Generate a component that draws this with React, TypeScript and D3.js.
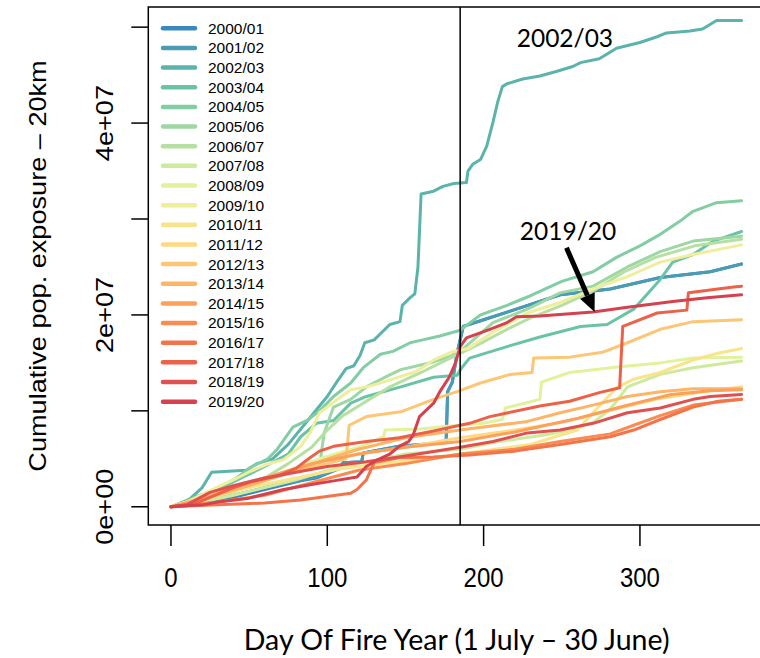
import React from "react";
import * as d3 from "d3";

// Fire seasons (1 July - 30 June)
const seasons = [
  "2000/01", "2001/02", "2002/03", "2003/04", "2004/05", "2005/06", "2006/07",
  "2007/08", "2008/09", "2009/10", "2010/11", "2011/12", "2012/13", "2013/14",
  "2014/15", "2015/16", "2016/17", "2017/18", "2018/19", "2019/20",
];

// Spectral-like ramp, blue (oldest) to red (newest)
const seasonColours = [
  "#3a88bd", "#4a9cb5", "#5bb4ab", "#6bc3a5", "#83cda4", "#9cd7a4", "#b6e0a1",
  "#cdea9d", "#e2f29b", "#eeee9c", "#f7e48b", "#fdd984", "#fdc674", "#fdb466",
  "#fca05b", "#f98b53", "#f4744a", "#ec6148", "#e0504f", "#d5414f",
];

// Cumulative population exposure, [day of fire year, exposure in units of 1e7 people]
const s2000: [number, number][] = [[0,0],[20,0.04],[40,0.1],[60,0.18],[83,0.27],[93,0.3],[108,0.4],[110,0.46],[122,0.47],[123,0.56],[146,0.63],[176,0.67],[177,1.2],[180,1.3],[183,1.6],[187,1.88],[200,1.95],[217,2.04],[249,2.21],[281,2.27],[313,2.39],[345,2.45],[365,2.53]];
const s2001: [number, number][] = [[0,0],[20,0.05],[40,0.12],[60,0.2],[83,0.28],[93,0.31],[108,0.4],[110,0.46],[122,0.47],[123,0.56],[146,0.63],[176,0.67],[177,1.2],[180,1.3],[183,1.6],[187,1.88],[200,1.95],[217,2.04],[249,2.21],[281,2.27],[313,2.39],[345,2.45],[365,2.53]];
const s2002: [number, number][] = [[0,0],[10,0.05],[20,0.2],[26,0.36],[48,0.38],[55,0.45],[65,0.5],[75,0.65],[85,0.85],[95,1.05],[100,1.15],[106,1.3],[112,1.44],[117,1.47],[121,1.58],[124,1.71],[130,1.74],[140,1.9],[146.5,1.93],[148,2.1],[153,2.18],[156,2.22],[158,2.5],[160,3.26],[168,3.29],[174,3.34],[181,3.37],[189,3.38],[190,3.5],[193,3.57],[198,3.62],[202,3.76],[206,4.01],[209,4.22],[212,4.38],[215,4.41],[225,4.46],[236,4.49],[247,4.54],[257,4.59],[262,4.63],[274,4.67],[279,4.72],[285,4.78],[300,4.84],[311,4.9],[317,4.94],[332,4.96],[340,4.98],[343,5.01],[349,5.07],[365,5.07]];
const s2003: [number, number][] = [[0,0],[15,0.1],[30,0.18],[45,0.3],[60,0.42],[75,0.55],[83,0.73],[93,0.87],[104,0.9],[115,1.08],[125,1.15],[147,1.25],[168,1.35],[183,1.37],[186,1.45],[191,1.55],[215,1.67],[236,1.77],[262,1.88],[279,1.9],[296,2.06],[313,2.37],[321,2.55],[334,2.63],[347,2.77],[365,2.87]];
const s2004: [number, number][] = [[0,0],[15,0.05],[30,0.2],[40,0.28],[52,0.42],[62,0.5],[68,0.6],[78,0.83],[87,0.9],[95,1.0],[104,1.15],[115,1.29],[123,1.45],[134,1.59],[142,1.62],[153,1.71],[161,1.74],[172,1.78],[185,1.84],[198,2.0],[215,2.1],[230,2.2],[250,2.35],[270,2.45],[285,2.6],[300,2.72],[313,2.84],[325,2.97],[334,3.08],[349,3.17],[365,3.19]];
const s2005: [number, number][] = [[0,0],[20,0.1],[40,0.22],[60,0.3],[80,0.38],[95,0.42],[98,0.77],[104,1.04],[115,1.12],[125,1.25],[138,1.36],[147,1.43],[168,1.51],[179,1.57],[185,1.62],[206,1.92],[228,2.06],[249,2.23],[270,2.3],[292,2.5],[313,2.66],[334,2.77],[365,2.82]];
const s2006: [number, number][] = [[0,0],[20,0.06],[40,0.15],[60,0.3],[75,0.45],[90,0.62],[100,0.8],[110,0.95],[125,1.1],[140,1.25],[160,1.4],[175,1.52],[185,1.6],[200,1.72],[215,1.85],[230,1.97],[250,2.1],[270,2.25],[290,2.45],[310,2.6],[335,2.72],[365,2.79]];
const s2007: [number, number][] = [[0,0],[20,0.05],[40,0.12],[60,0.2],[80,0.28],[100,0.38],[120,0.45],[150,0.55],[185,0.6],[210,0.68],[240,0.75],[255,0.8],[270,0.88],[280,1.0],[285,1.1],[292,1.25],[313,1.38],[334,1.45],[365,1.52]];
const s2008: [number, number][] = [[0,0],[20,0.08],[45,0.2],[70,0.35],[95,0.5],[120,0.62],[136,0.73],[137,0.8],[160,0.81],[177,0.84],[200,0.87],[212,0.91],[214,1.03],[236,1.12],[237,1.3],[255,1.4],[287,1.46],[313,1.5],[334,1.55],[365,1.56]];
const s2009: [number, number][] = [[0,0],[10,0.05],[29,0.2],[40,0.28],[51,0.37],[61,0.44],[72,0.49],[83,0.63],[89,0.77],[95,0.98],[104,1.09],[115,1.22],[125,1.25],[136,1.3],[147,1.36],[157,1.41],[168,1.53],[179,1.61],[190,1.65],[206,1.82],[228,2.02],[249,2.13],[270,2.27],[292,2.4],[313,2.55],[334,2.63],[365,2.73]];
const s2010: [number, number][] = [[0,0],[25,0.1],[50,0.2],[80,0.3],[110,0.4],[150,0.48],[185,0.55],[230,0.65],[260,0.8],[270,0.98],[285,1.24],[296,1.33],[313,1.4],[334,1.53],[350,1.6],[365,1.65]];
const s2011: [number, number][] = [[0,0],[30,0.15],[60,0.3],[90,0.45],[120,0.55],[150,0.62],[185,0.72],[220,0.8],[250,0.88],[280,1.0],[310,1.12],[340,1.2],[365,1.25]];
const s2012: [number, number][] = [[0,0],[20,0.08],[40,0.18],[60,0.28],[80,0.38],[100,0.45],[112,0.5],[114,0.85],[125,0.94],[147,0.99],[168,1.12],[183,1.2],[198,1.29],[217,1.38],[231,1.4],[232,1.55],[255,1.56],[276,1.61],[292,1.71],[313,1.85],[334,1.93],[365,1.95]];
const s2013: [number, number][] = [[0,0],[25,0.1],[50,0.22],[75,0.35],[100,0.5],[120,0.6],[150,0.72],[185,0.8],[228,0.89],[249,0.98],[270,1.06],[292,1.15],[313,1.2],[334,1.23],[365,1.23]];
const s2014: [number, number][] = [[0,0],[20,0.08],[40,0.2],[60,0.3],[90,0.45],[120,0.55],[150,0.62],[185,0.68],[220,0.78],[260,0.92],[290,1.05],[320,1.17],[345,1.21],[365,1.22]];
const s2015: [number, number][] = [[0,0],[30,0.05],[60,0.12],[90,0.25],[120,0.38],[150,0.45],[185,0.55],[220,0.6],[249,0.68],[281,0.76],[296,0.85],[313,0.95],[334,1.06],[365,1.12]];
const s2016: [number, number][] = [[0,0],[30,0.02],[60,0.04],[83,0.07],[115,0.14],[119,0.18],[125,0.28],[130,0.46],[146,0.51],[168,0.52],[191,0.54],[220,0.58],[249,0.65],[281,0.73],[296,0.8],[313,0.91],[334,1.04],[350,1.1],[365,1.12]];
const s2017: [number, number][] = [[0,0],[15,0.03],[28,0.12],[40,0.2],[51,0.26],[68,0.32],[80,0.4],[88,0.5],[95,0.58],[104,0.63],[125,0.68],[146,0.72],[168,0.79],[191,0.87],[204,0.94],[236,1.05],[255,1.1],[274,1.19],[287,1.24],[289,1.88],[292,1.9],[311,2.02],[330,2.05],[331,2.23],[360,2.29],[365,2.3]];
const s2018: [number, number][] = [[0,0],[10,0.02],[25,0.15],[40,0.22],[60,0.3],[80,0.36],[100,0.42],[125,0.47],[150,0.53],[185,0.62],[206,0.68],[228,0.77],[249,0.8],[270,0.87],[292,0.98],[313,1.03],[334,1.12],[345,1.15],[365,1.17]];
const s2019: [number, number][] = [[0,0],[20,0.02],[30,0.05],[50,0.09],[72,0.18],[89,0.23],[104,0.27],[119,0.31],[125,0.42],[132,0.49],[140,0.55],[146,0.63],[152,0.68],[155,0.75],[159,0.94],[168,1.08],[172,1.2],[178,1.35],[182,1.5],[185,1.67],[189,1.76],[204,1.85],[215,1.92],[221,1.98],[236,1.99],[270,2.03],[292,2.08],[321,2.14],[343,2.18],[365,2.21]];

const seriesValues = [
  s2000, s2001, s2002, s2003, s2004, s2005, s2006, s2007, s2008, s2009,
  s2010, s2011, s2012, s2013, s2014, s2015, s2016, s2017, s2018, s2019,
];

const xTicks = [0, 100, 200, 300];
const yTicks = [0, 1, 2, 3, 4, 5];
const yTickLabels = ["0e+00", "", "2e+07", "", "4e+07", ""];

// Half-year marker (day of fire year)
const midYearDay = 185;

// Callouts placed in data coordinates
const callout2002 = { label: "2002/03", day: 252, value: 4.79 };
const callout2019 = { label: "2019/20", day: 254, value: 2.78, tail: [253, 2.7], tip: [271, 2.03] };

const W = 760;
const H = 658;

export default function App() {
  const x = d3.scaleLinear().domain([-14.5, 380]).range([148.3, 765]);
  const y = d3.scaleLinear().domain([-0.19, 5.21]).range([525, 7]);
  const [x0, x1] = x.range();
  const [yb, yt] = y.range();

  const line = d3
    .line<[number, number]>()
    .x((d) => x(d[0]))
    .y((d) => y(d[1]));

  const axisFont = "'Liberation Sans', Arial, Helvetica, sans-serif";
  const noteFont = "Lato, 'Open Sans', sans-serif";
  const tickLen = 17;
  const stretch = 1.13;

  // arrow geometry
  const tx = x(callout2019.tail[0]);
  const ty = y(callout2019.tail[1]);
  const hx = x(callout2019.tip[0]);
  const hy = y(callout2019.tip[1]);
  const ang = Math.atan2(hy - ty, hx - tx);
  const headLen = 18;
  const headHalf = 8;
  const bx = hx - headLen * Math.cos(ang);
  const by = hy - headLen * Math.sin(ang);
  const px = -Math.sin(ang);
  const py = Math.cos(ang);
  const head = `${hx},${hy} ${bx + px * headHalf},${by + py * headHalf} ${bx - px * headHalf},${by - py * headHalf}`;

  const legendX = 163;
  const legendY = 28.3;
  const legendStep = 19.65;

  return (
    <svg
      width={W}
      height={H}
      viewBox={`0 0 ${W} ${H}`}
      style={{ position: "absolute", left: 0, top: 0, background: "#fff" }}
    >
      <defs>
        <clipPath id="plotArea">
          <rect x={x0} y={yt} width={x1 - x0} height={yb - yt} />
        </clipPath>
      </defs>
      <rect x={0} y={0} width={W} height={H} fill="#fff" />

      {/* season curves */}
      <g clipPath="url(#plotArea)" fill="none" strokeLinejoin="round" strokeLinecap="round">
        {seriesValues.map((s, i) => (
          <path key={seasons[i]} d={line(s) || ""} stroke={seasonColours[i]} strokeWidth={3} />
        ))}
      </g>

      {/* plot frame and mid-year line */}
      <rect x={x0} y={yt} width={x1 - x0} height={yb - yt} fill="none" stroke="#000" strokeWidth={1.5} />
      <line x1={x(midYearDay)} x2={x(midYearDay)} y1={yt} y2={yb} stroke="#000" strokeWidth={1.5} />

      {/* y axis */}
      <g fontFamily={axisFont} fontSize={24} fill="#000">
        {yTicks.map((t, i) => (
          <g key={t}>
            <line x1={x0 - tickLen} x2={x0} y1={y(t)} y2={y(t)} stroke="#000" strokeWidth={1.5} />
            {yTickLabels[i] && (
              <text
                transform={`translate(105, ${y(t)}) scale(1, ${stretch}) rotate(-90)`}
                textAnchor="middle"
                dy="0.35em"
              >
                {yTickLabels[i]}
              </text>
            )}
          </g>
        ))}
        <text
          transform={`translate(38, ${(yt + yb) / 2}) scale(1, ${stretch}) rotate(-90)`}
          textAnchor="middle"
          dy="0.35em"
        >
          Cumulative pop.  exposure – 20km
        </text>
      </g>

      {/* x axis */}
      <g fontFamily={axisFont} fontSize={24} fill="#000">
        {xTicks.map((t) => (
          <g key={t}>
            <line x1={x(t)} x2={x(t)} y1={yb} y2={yb + tickLen + 4} stroke="#000" strokeWidth={1.5} />
            <text transform={`translate(${x(t)}, 578) scale(1, ${stretch})`} textAnchor="middle" dy="0.35em">
              {t}
            </text>
          </g>
        ))}
      </g>
      <text
        x={(x0 + x1) / 2}
        y={640}
        textAnchor="middle"
        dy="0.35em"
        fontFamily={noteFont}
        fontSize={28.5}
        fill="#000"
      >
        Day Of Fire Year (1 July – 30 June)
      </text>

      {/* legend */}
      <g fontFamily={axisFont} fontSize={15.5} fill="#000">
        {seasons.map((s, i) => (
          <g key={s} transform={`translate(0, ${legendY + i * legendStep})`}>
            <line x1={legendX} x2={legendX + 32} y1={0} y2={0} stroke={seasonColours[i]} strokeWidth={4.5} strokeLinecap="round" />
            <text x={208} y={0} dy="0.35em">
              {s}
            </text>
          </g>
        ))}
      </g>

      {/* callouts */}
      <g fontFamily={noteFont} fontSize={24.5} fill="#000">
        <text x={x(callout2002.day)} y={y(callout2002.value)} textAnchor="middle">
          {callout2002.label}
        </text>
        <text x={x(callout2019.day)} y={y(callout2019.value)} textAnchor="middle">
          {callout2019.label}
        </text>
      </g>
      <line x1={tx} y1={ty} x2={bx} y2={by} stroke="#000" strokeWidth={5} />
      <polygon points={head} fill="#000" />
    </svg>
  );
}
